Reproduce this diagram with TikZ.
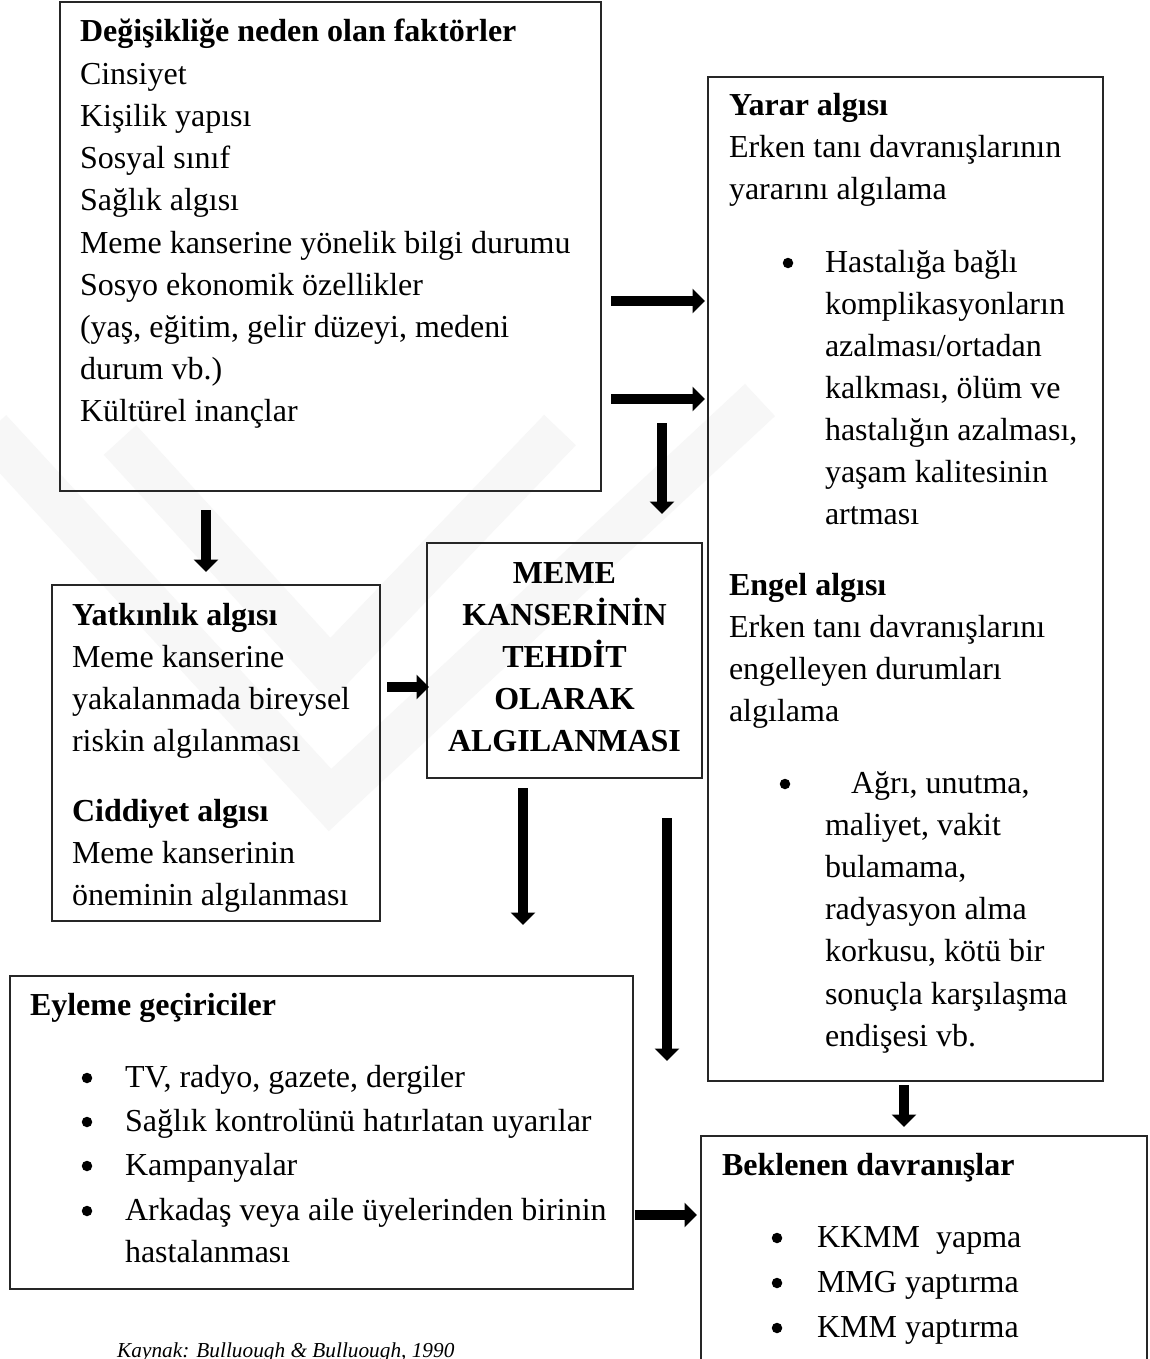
\documentclass[tikz,border=0pt]{standalone}
\usepackage{fontspec}
\setmainfont{Liberation Serif}
\usetikzlibrary{arrows.meta}
\tikzset{
  box/.style={draw=black!85, line width=1.4pt, inner sep=0pt, outer sep=0pt, fill=none},
  txt/.style={font=\fontsize{32}{42}\selectfont, inner sep=0pt, outer sep=0pt, anchor=base west, text=black},
  btxt/.style={txt, font=\fontsize{32}{42}\selectfont\bfseries},
  ctxt/.style={txt, anchor=base, font=\fontsize{32}{42}\selectfont\bfseries},
  bul/.style={circle, fill=black, inner sep=0pt, minimum size=10.5pt},
  srccap/.style={font=\fontsize{21.3}{26}\selectfont\itshape, inner sep=0pt, anchor=base west},
  blk/.style={-{Triangle[width=24pt,length=12.5pt]}, line width=10.5pt, black},
  wmark/.style={line width=44pt, black!3, line join=miter},
}
\begin{document}
\begin{tikzpicture}[x=1pt,y=-1pt]
\useasboundingbox (0,0) rectangle (1150,1359);
\fill[white] (0,0) rectangle (1150,1359);

% ---------- faint watermark ----------
\draw[wmark] (-10,430) -- (330,800) -- (760,400);
\draw[wmark] (120,440) -- (330,670) -- (560,430);

% ---------- boxes ----------
\node[box, minimum width=541pt, minimum height=489pt] (fac) at (330.5,246.5) {};
\node[box, minimum width=395pt, minimum height=1004pt] (yar) at (905.5,579) {};
\node[box, minimum width=328pt, minimum height=336pt] (yat) at (216,753) {};
\node[box, minimum width=275pt, minimum height=235pt] (meme) at (564.5,660.5) {};
\node[box, minimum width=623pt, minimum height=313pt] (eyl) at (321.5,1132.5) {};
\node[box, minimum width=446pt, minimum height=250pt] (bek) at (924,1261) {};

% ---------- box 1 text ----------
\node[btxt] (facT) at (80,42) {Değişikliğe neden olan faktörler};
\foreach \t [count=\i] in {Cinsiyet, Kişilik yapısı, Sosyal sınıf, Sağlık algısı,
  Meme kanserine yönelik bilgi durumu, Sosyo ekonomik özellikler,
  {(yaş, eğitim, gelir düzeyi, medeni}, durum vb.), Kültürel inançlar}
  \node[txt] (fac\i) at (80,42+42.2*\i) {\t};

% ---------- right box text ----------
\node[btxt] (yarT) at (729,116) {Yarar algısı};
\node[txt] (yar1) at (729,158) {Erken tanı davranışlarının};
\node[txt] (yar2) at (729,200) {yararını algılama};
\node[bul] (yarB) at (788,263) {};
\foreach \t [count=\i from 0] in {Hastalığa bağlı, komplikasyonların, azalması/ortadan,
  {kalkması, ölüm ve}, {hastalığın azalması,}, yaşam kalitesinin, artması}
  \node[txt] (yarL\i) at (825,272+42.15*\i) {\t};
\node[btxt] (engT) at (729,595) {Engel algısı};
\node[txt] (eng1) at (729,637) {Erken tanı davranışlarını};
\node[txt] (eng2) at (729,679) {engelleyen durumları};
\node[txt] (eng3) at (729,721) {algılama};
\node[bul] (engB) at (785,784) {};
\node[txt] (engL0) at (851,793) {Ağrı, unutma,};
\foreach \t [count=\i] in {{maliyet, vakit}, {bulamama,}, radyasyon alma,
  {korkusu, kötü bir}, sonuçla karşılaşma, endişesi vb.}
  \node[txt] (engL\i) at (825,793+42.2*\i) {\t};

% ---------- yatkinlik box ----------
\node[btxt] (yatT) at (72,625) {Yatkınlık algısı};
\node[txt] (yat1) at (72,667) {Meme kanserine};
\node[txt] (yat2) at (72,709) {yakalanmada bireysel};
\node[txt] (yat3) at (72,751) {riskin algılanması};
\node[btxt] (cidT) at (72,821) {Ciddiyet algısı};
\node[txt] (cid1) at (72,863) {Meme kanserinin};
\node[txt] (cid2) at (72,905) {öneminin algılanması};

% ---------- center box ----------
\node[ctxt] (m1) at (564.5,583) {MEME};
\node[ctxt] (m2) at (564.5,625) {KANSERİNİN};
\node[ctxt] (m3) at (564.5,667) {TEHDİT};
\node[ctxt] (m4) at (564.5,709) {OLARAK};
\node[ctxt] (m5) at (564.5,751) {ALGILANMASI};

% ---------- eyleme box ----------
\node[btxt] (eylT) at (30,1015) {Eyleme geçiriciler};
\foreach \t/\y [count=\i] in {{TV, radyo, gazete, dergiler}/1087, Sağlık kontrolünü hatırlatan uyarılar/1131,
  Kampanyalar/1175, Arkadaş veya aile üyelerinden birinin/1220}{
  \node[bul] (eylB\i) at (87,\y-9) {};
  \node[txt] (eyl\i) at (125,\y) {\t};
}
\node[txt] (eyl5) at (125,1262) {hastalanması};

% ---------- beklenen box ----------
\node[btxt] (bekT) at (722,1175) {Beklenen davranışlar};
\foreach \t/\y [count=\i] in {KKMM\ \ yapma/1247, MMG yaptırma/1292, KMM yaptırma/1337}{
  \node[bul] (bekB\i) at (777,\y-9) {};
  \node[txt] (bek\i) at (817,\y) {\t};
}

% ---------- caption ----------
\node[srccap] (src) at (117,1357) {Kaynak: Bulluough \& Bulluough, 1990};

% ---------- arrows ----------
\coordinate (a1s) at (611,301);  \coordinate (a1e) at (705,301);
\coordinate (a2s) at (611,399);  \coordinate (a2e) at (705,399);
\coordinate (a3s) at (662,423);  \coordinate (a3e) at (662,514);
\coordinate (a4s) at (206,510);  \coordinate (a4e) at (206,572);
\coordinate (a5s) at (387,687);  \coordinate (a5e) at (429,687);
\coordinate (a6s) at (523,788);  \coordinate (a6e) at (523,925);
\coordinate (a7s) at (667,818);  \coordinate (a7e) at (667,1061);
\coordinate (a8s) at (904,1085); \coordinate (a8e) at (904,1127);
\coordinate (a9s) at (635,1215); \coordinate (a9e) at (697,1215);
\foreach \k in {1,...,9} \draw[blk] (a\k s) -- (a\k e);
\end{tikzpicture}
\end{document}
